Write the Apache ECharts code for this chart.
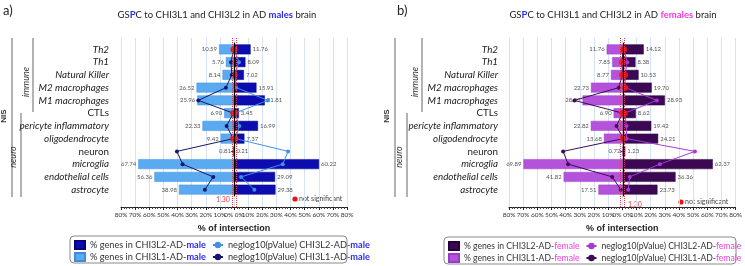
<!DOCTYPE html>
<html>
<head>
<meta charset="utf-8">
<script src="https://cdn.jsdelivr.net/npm/echarts@6/dist/echarts.min.js"></script>
<style>
html, body { margin: 0; padding: 0; background: #fff; }
#chart { width: 745px; height: 266px; }
</style>
</head>
<body>
<div id="chart"></div>
<script>
// categories (top to bottom)
const categories = ['Th2', 'Th1', 'Natural Killer', 'M2 macrophages', 'M1 macrophages', 'CTLs',
  'pericyte inflammatory', 'oligodendrocyte', 'neuron', 'microglia', 'endothelial cells', 'astrocyte'];
const uprightLabels = ['CTLs', 'neuron'];
const xTicks = [-80, -70, -60, -50, -40, -30, -20, -10, 0, 10, 20, 30, 40, 50, 60, 70, 80];
const sigThreshold = 1.30;

// males: % genes
const maleL1Pct = [10.59, 5.76, 8.14, 26.52, 25.96, 6.90, 22.33, 9.42, 0.81, 67.74, 56.36, 38.98];
const maleL2Pct = [11.76, 8.09, 7.02, 15.91, 21.81, 3.45, 16.99, 7.37, 0.21, 60.22, 29.09, 29.38];
// males: neglog10(pValue)
const maleL1Neglog = [0.3, 2.1, 1.6, 5.7, 25.3, 0.5, 5.2, 0.6, 40.4, 36.4, 14.7, 20.6];
const maleL2Neglog = [0.4, 3.5, 0.5, 1.6, 23.9, 0.7, 3.8, 1.0, 38.3, 34.5, 5.0, 14.4];

// females: % genes
const femaleL1Pct = [11.76, 7.85, 8.77, 22.73, 28.57, 6.90, 22.82, 13.68, 0.72, 69.89, 41.82, 17.51];
const femaleL2Pct = [14.12, 8.38, 10.53, 19.70, 28.93, 8.62, 19.42, 24.21, 1.23, 62.37, 36.36, 23.73];
// females: neglog10(pValue)
const femaleL1Neglog = [0.4, 0.9, 0.9, 3.3, 34.3, 0.7, 4.9, 0.3, 42.2, 38.7, 7.9, 1.9];
const femaleL2Neglog = [0.3, 2.6, 1.1, 1.2, 23.3, 0.8, 2.1, 2.1, 49.9, 25.4, 4.4, 3.3];

const FONT = 'Lato';

function buildPanel(p) {
  const g = p.gi; // first grid index of this panel
  const grids = [
    { left: p.left, right: p.right, top: 38, bottom: 59 },   // background grid (gridlines, bottom axis)
    { left: p.left, right: p.right, top: 43, bottom: 70 }    // data grid
  ];
  const xAxes = [
    {
      gridIndex: g, type: 'value', min: xTicks[0], max: xTicks[xTicks.length - 1], interval: 10,
      axisLine: { lineStyle: { color: '#222', width: 1 } },
      axisTick: { length: 3, lineStyle: { color: '#222' } },
      minorTick: { show: true, splitNumber: 5, length: 2, lineStyle: { color: '#444' } },
      splitLine: { show: true, lineStyle: { color: '#d6e3f6', width: 1 } },
      axisLabel: {
        fontSize: 6.5, color: '#333', fontFamily: FONT, margin: 4,
        formatter: v => v === 0 ? '0% 0%' : Math.abs(v) + '%'
      },
      name: '% of intersection', nameLocation: 'middle', nameGap: 17,
      nameTextStyle: { fontSize: 9, fontWeight: 'bold', color: '#222', fontFamily: 'Liberation Sans' }
    },
    { gridIndex: g + 1, type: 'value', min: -80, max: 80, show: false }
  ];
  const yAxes = [
    { gridIndex: g, type: 'value', min: 0, max: 1, show: false },
    {
      gridIndex: g + 1, type: 'category', data: categories, inverse: true, offset: p.yOffset,
      axisLine: { lineStyle: { color: '#333', width: 1 } },
      axisTick: { show: true, alignWithLabel: true, length: 3, lineStyle: { color: '#333' } },
      axisLabel: {
        margin: 3, interval: 0,
        formatter: v => uprightLabels.includes(v) ? '{n|' + v + '}' : '{i|' + v + '}',
        rich: {
          i: { fontStyle: 'italic', fontSize: 9.8, color: '#222', fontFamily: FONT },
          n: { fontSize: 9.8, color: '#222', fontFamily: FONT }
        }
      }
    }
  ];
  const pctLabel = pos => ({
    show: true, position: pos, distance: 2, fontSize: 6, color: '#555', fontFamily: FONT,
    formatter: d => Math.abs(d.value).toFixed(2)
  });
  const pvData = (arr, sign) => arr.map(v => v < sigThreshold
    ? { value: sign * v, symbolSize: 6, itemStyle: { color: '#ee1111' } }
    : sign * v);
  const series = [
    {
      name: p.names[2], type: 'bar', xAxisIndex: g + 1, yAxisIndex: g + 1, stack: 'pct' + g,
      data: p.l1Pct.map(v => -v), barCategoryGap: '22%',
      itemStyle: { color: p.lightBar, borderColor: p.lightBorder, borderWidth: 0.5 },
      label: pctLabel('left')
    },
    {
      name: p.names[0], type: 'bar', xAxisIndex: g + 1, yAxisIndex: g + 1, stack: 'pct' + g,
      data: p.l2Pct, barCategoryGap: '22%',
      itemStyle: { color: p.darkBar, borderColor: p.darkBorder, borderWidth: 0.5 },
      label: pctLabel('right'),
      markLine: {
        silent: true, symbol: 'none', label: { show: false },
        lineStyle: { color: '#000', width: 1.2, type: 'solid' },
        data: [{ xAxis: 0 }]
      }
    },
    {
      name: p.names[1], type: 'line', xAxisIndex: g + 1, yAxisIndex: g + 1, z: 4,
      data: pvData(p.l2Neglog, 1), symbol: 'circle', symbolSize: 4,
      lineStyle: { color: p.l2Line, width: 1 }, itemStyle: { color: p.l2Line }
    },
    {
      name: p.names[3], type: 'line', xAxisIndex: g + 1, yAxisIndex: g + 1, z: 4,
      data: pvData(p.l1Neglog, -1), symbol: 'circle', symbolSize: 4,
      lineStyle: { color: p.l1Line, width: 1 }, itemStyle: { color: p.l1Line }
    },
    {
      type: 'line', xAxisIndex: g, yAxisIndex: g, data: [[0, 0.5]], showSymbol: false,
      lineStyle: { opacity: 0 }, silent: true,
      markLine: {
        silent: true, symbol: 'none', label: { show: false },
        lineStyle: { color: '#e83a3a', width: 1, type: 'dotted' },
        data: [{ xAxis: -sigThreshold }, { xAxis: sigThreshold }]
      }
    }
  ];
  const legendText = {
    fontSize: p.legendFont, color: '#333', fontFamily: FONT,
    rich: { s: { fontSize: p.legendFont, color: p.accent, fontWeight: p.accentWeight, fontFamily: FONT } }
  };
  const legendFmt = n => n.replace(/-((?:fe)?male)$/, '-{s|$1}');
  const legendRow = (names, top) => ({
    data: [{ name: names[0], icon: 'rect' }, names[1]],
    left: p.legendX + 4, top: top, width: 420, padding: 0,
    itemWidth: 10, itemHeight: 8, itemGap: 6,
    textStyle: legendText, formatter: legendFmt, selectedMode: false
  });
  const legends = [
    legendRow([p.names[0], p.names[1]], p.legendY + 4),
    legendRow([p.names[2], p.names[3]], p.legendY + 16)
  ];
  const vline = (x, y1, y2) => ({
    type: 'line', shape: { x1: x, y1: y1, x2: x, y2: y2 }, style: { stroke: '#666', lineWidth: 1 }
  });
  const vtext = (x, y, t, extra) => ({
    type: 'text', x: x, y: y, rotation: Math.PI / 2,
    style: Object.assign({ text: t, fontSize: 9, fill: '#333', fontFamily: FONT,
      align: 'center', verticalAlign: 'middle', fontStyle: 'italic' }, extra || {})
  });
  const graphics = [
    { type: 'text', x: p.tagX, y: 4, style: { text: p.tag, fontSize: 13, fill: '#222', fontFamily: FONT } },
    {
      type: 'text', x: p.titleX, y: 10,
      style: {
        text: '{n|GS}{p|P}{n|C to CHI3L1 and CHI3L2 in AD }{m|' + p.sex + '}{n| brain}',
        align: 'center', fontFamily: FONT,
        rich: {
          n: { fontSize: 9.5, fill: '#222', fontFamily: FONT },
          p: { fontSize: 9.5, fill: '#2233ee', fontWeight: 'bold', fontFamily: FONT },
          m: { fontSize: 9.5, fill: p.accent, fontWeight: 'bold', fontFamily: FONT }
        }
      }
    },
    vline(p.outerX, 38, 197), vline(p.immuneX, 38, 112), vline(p.neuroX, 113, 197),
    vtext(p.outerX - 8, 116, 'NIS', { fontWeight: 'bold', fontStyle: 'normal', fontFamily: 'Liberation Sans', fontSize: 8 }),
    vtext(p.immuneX - 7, 82, 'immune'),
    vtext(p.neuroX - 8, 157, 'neuro'),
    {
      type: 'text', x: p.sigTextX, y: p.sigTextY,
      style: { text: '1.30', fontSize: 7, fill: '#e83a3a', fontFamily: FONT, align: 'center', verticalAlign: 'middle' }
    },
    { type: 'circle', shape: { cx: p.nsX, cy: p.nsY, r: 2.6 }, style: { fill: '#ee1111' } },
    {
      type: 'text', x: p.nsX + 4, y: p.nsY,
      style: { text: 'not significant', fontSize: 7, fill: '#444', fontFamily: FONT, verticalAlign: 'middle' }
    },
    {
      type: 'rect', shape: { x: p.legendX, y: p.legendY, width: p.legendW, height: 27, r: 4 },
      style: { fill: 'none', stroke: '#8a8a8a', lineWidth: 1 }
    }
  ];
  return { grids, xAxes, yAxes, series, legends, graphics };
}

const panelA = buildPanel({
  gi: 0, left: 121, right: 398, yOffset: 9, sex: 'males', tag: 'a)', tagX: 3, titleX: 217,
  accent: '#2a2af0', accentWeight: 'bold', legendFont: 9.2,
  names: ['% genes in CHI3L2-AD-male', 'neglog10(pValue) CHI3L2-AD-male',
          '% genes in CHI3L1-AD-male', 'neglog10(pValue) CHI3L1-AD-male'],
  l1Pct: maleL1Pct, l2Pct: maleL2Pct, l1Neglog: maleL1Neglog, l2Neglog: maleL2Neglog,
  lightBar: '#5aaaf2', lightBorder: '#3d8fdc', darkBar: '#0c0cb0', darkBorder: '#06067a',
  l2Line: '#3f92e2', l1Line: '#16166e',
  outerX: 12, immuneX: 33, neuroX: 21, sigTextX: 223, sigTextY: 200, nsX: 295, nsY: 199,
  legendX: 70, legendY: 236, legendW: 277
});
const panelB = buildPanel({
  gi: 2, left: 509, right: 7, yOffset: 8, sex: 'females', tag: 'b)', tagX: 397, titleX: 613,
  accent: '#f23ce0', accentWeight: 'normal', legendFont: 8.6,
  names: ['% genes in CHI3L2-AD-female', 'neglog10(pValue) CHI3L2-AD-female',
          '% genes in CHI3L1-AD-female', 'neglog10(pValue) CHI3L1-AD-female'],
  l1Pct: femaleL1Pct, l2Pct: femaleL2Pct, l1Neglog: femaleL1Neglog, l2Neglog: femaleL2Neglog,
  lightBar: '#b552dc', lightBorder: '#9a3cc4', darkBar: '#3c0854', darkBorder: '#25033a',
  l2Line: '#a53ad8', l1Line: '#3e0c56',
  outerX: 395, immuneX: 422, neuroX: 407, sigTextX: 635, sigTextY: 205, nsX: 681, nsY: 202,
  legendX: 444, legendY: 237, legendW: 292
});

const chart = echarts.init(document.getElementById('chart'));
chart.setOption({
  animation: false,
  textStyle: { fontFamily: FONT },
  grid: panelA.grids.concat(panelB.grids),
  xAxis: panelA.xAxes.concat(panelB.xAxes),
  yAxis: panelA.yAxes.concat(panelB.yAxes),
  series: panelA.series.concat(panelB.series),
  legend: panelA.legends.concat(panelB.legends),
  graphic: panelA.graphics.concat(panelB.graphics)
});
</script>
</body>
</html>
